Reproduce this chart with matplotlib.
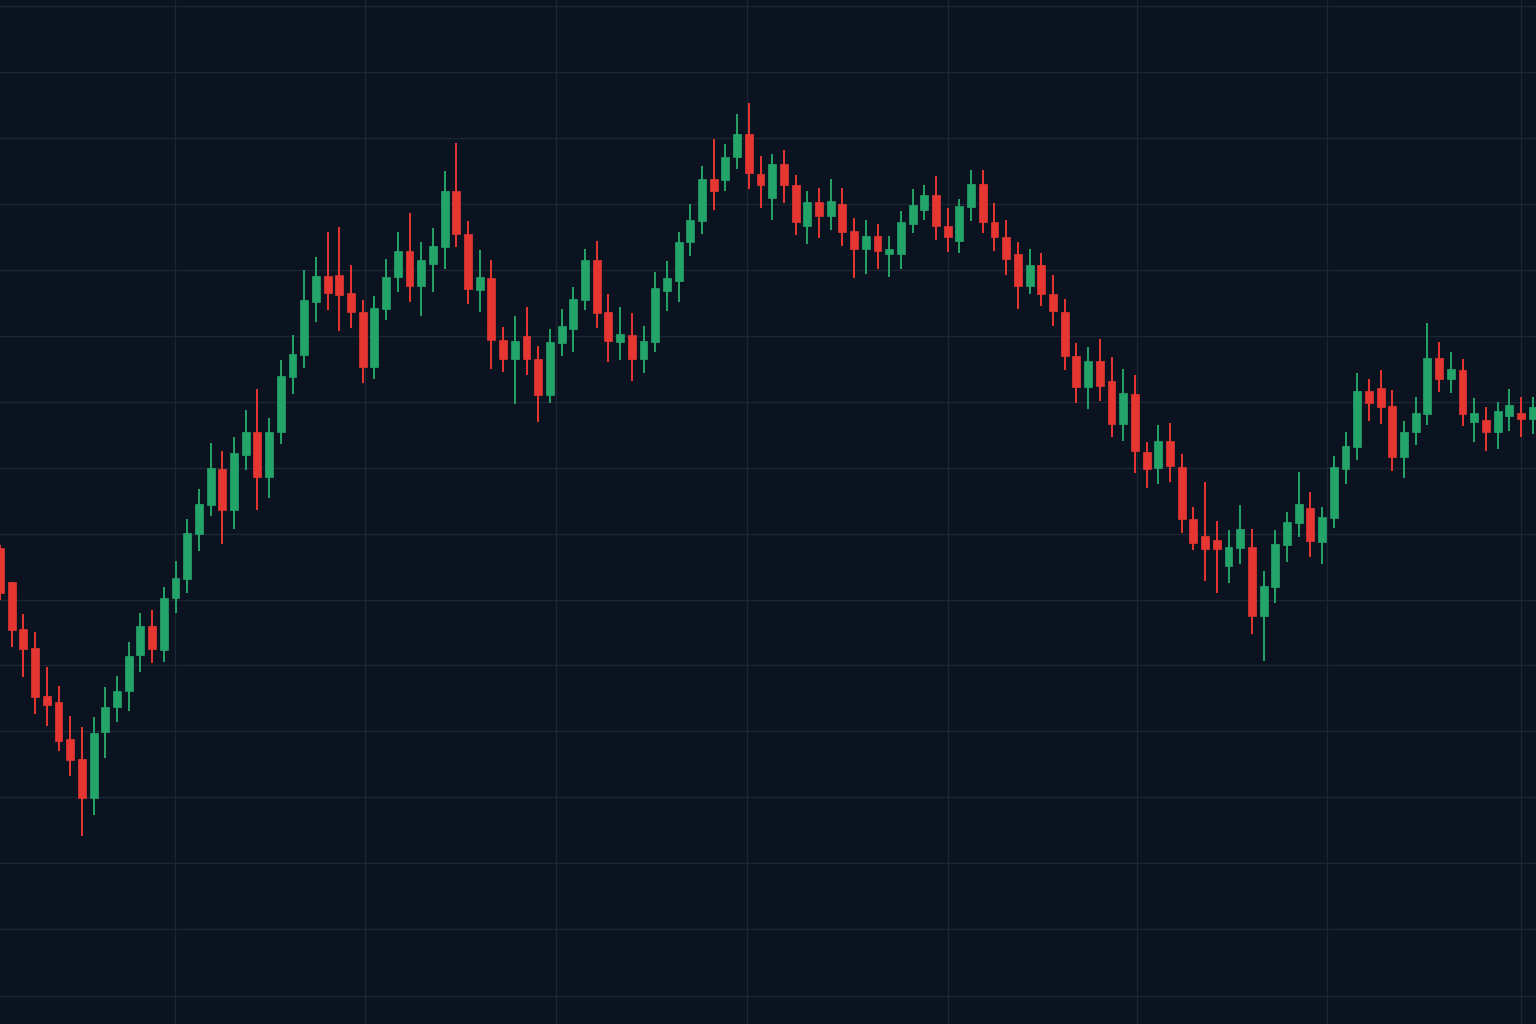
import matplotlib
matplotlib.use("Agg")
import matplotlib.pyplot as plt
import numpy as np

# levels (screen-style scale: smaller = higher)
opens = [548, 582, 629, 648, 696, 702, 739, 759, 798, 732, 707, 691, 655, 626, 650, 598, 579, 534, 505, 469,
         510, 455, 432, 477, 432, 377, 355, 302, 276, 275, 293, 312, 367, 309, 277, 251, 286, 264, 247, 191,
         234, 290, 278, 340, 359, 336, 359, 395, 343, 329, 300, 260, 312, 342, 335, 359, 342, 291, 281, 242,
         221, 179, 180, 157, 134, 174, 198, 164, 185, 226, 202, 216, 204, 231, 249, 236, 254, 254, 224, 210,
         195, 226, 241, 207, 184, 222, 237, 254, 286, 265, 294, 312, 356, 387, 361, 381, 424, 394, 452, 468,
         441, 467, 519, 536, 540, 566, 548, 547, 616, 587, 545, 523, 508, 542, 518, 469, 447, 391, 388, 406,
         457, 432, 414, 358, 379, 370, 422, 420, 432, 416, 413, 419]
highs = [545, 582, 614, 632, 667, 686, 716, 727, 717, 687, 676, 642, 613, 610, 587, 561, 519, 489, 443, 451,
         437, 410, 389, 418, 360, 335, 270, 257, 232, 227, 265, 300, 296, 259, 232, 213, 242, 228, 171, 143,
         221, 250, 260, 327, 316, 307, 346, 329, 309, 287, 249, 241, 294, 307, 313, 326, 272, 261, 232, 204,
         166, 139, 144, 114, 103, 156, 154, 150, 175, 191, 188, 179, 188, 218, 220, 224, 236, 211, 189, 185,
         176, 208, 199, 170, 170, 203, 220, 242, 249, 253, 275, 299, 343, 347, 339, 357, 369, 375, 442, 425,
         423, 454, 507, 482, 521, 530, 505, 529, 571, 530, 512, 472, 492, 507, 456, 432, 373, 379, 370, 390,
         421, 397, 323, 342, 352, 359, 398, 407, 402, 389, 397, 397]
lows = [600, 647, 677, 714, 726, 751, 776, 836, 815, 758, 722, 711, 672, 663, 662, 613, 593, 551, 516, 544,
        529, 470, 510, 498, 444, 394, 368, 322, 310, 331, 328, 383, 379, 320, 292, 302, 316, 292, 269, 247,
        304, 312, 369, 372, 404, 375, 422, 403, 356, 352, 310, 328, 362, 360, 381, 373, 352, 311, 302, 256,
        234, 210, 191, 169, 189, 208, 220, 203, 235, 244, 238, 230, 246, 278, 274, 269, 277, 269, 233, 220,
        240, 252, 253, 221, 233, 251, 275, 309, 294, 306, 326, 370, 403, 409, 401, 437, 441, 473, 488, 484,
        482, 533, 550, 581, 593, 583, 564, 634, 661, 603, 562, 537, 557, 564, 528, 484, 460, 421, 424, 471,
        478, 445, 425, 392, 393, 426, 442, 451, 449, 431, 437, 434]
closes = [593, 630, 649, 697, 705, 741, 760, 798, 733, 707, 691, 656, 626, 649, 598, 578, 533, 504, 468, 510,
          453, 432, 477, 432, 376, 354, 300, 276, 293, 295, 312, 367, 308, 277, 251, 286, 260, 246, 191, 234,
          289, 277, 340, 359, 341, 359, 395, 342, 326, 299, 260, 313, 341, 334, 359, 341, 288, 278, 242, 220,
          179, 191, 157, 134, 173, 185, 164, 185, 222, 202, 216, 201, 232, 249, 236, 251, 249, 222, 205, 195,
          226, 237, 206, 184, 222, 237, 259, 286, 265, 294, 311, 356, 387, 361, 386, 424, 393, 451, 469, 441,
          466, 519, 543, 549, 549, 547, 529, 616, 586, 544, 522, 504, 541, 517, 467, 446, 391, 403, 407, 457,
          432, 413, 358, 379, 369, 414, 413, 432, 411, 405, 419, 407]

h_grid = [6, 72, 138, 204, 270, 336, 402, 468, 534, 600, 665, 731, 797, 863, 929, 996]
v_grid_px = [175, 365, 556, 747, 948, 1137, 1327, 1521]

BG = "#0b1320"
GRID = "#1b2634"
UP = "#23a468"
DOWN = "#e63632"
STEP = 11.7  # pixels per candle

n = len(opens)
idx = np.arange(n)
o = np.array(opens)
c = np.array(closes)
up = c < o  # smaller level = higher price

fig = plt.figure(figsize=(15.36, 10.24), dpi=100, facecolor=BG)
ax = fig.add_axes([0, 0, 1, 1], facecolor=BG)

for y in h_grid:
    ax.axhline(y, color=GRID, lw=1, zorder=0)
for xp in v_grid_px:
    ax.axvline(xp / STEP, color=GRID, lw=1, zorder=0)

colors = np.where(up, UP, DOWN)
ax.vlines(idx, highs, lows, colors=colors, lw=1.4, zorder=2)
bottom = np.minimum(o, c)
height = np.maximum(np.abs(c - o), 2)
ax.bar(idx, height, bottom=bottom, width=0.68, color=colors, edgecolor=colors, lw=0.5, zorder=3)

ax.set_xlim(0, 1536 / STEP)
ax.set_ylim(1024, 0)
ax.axis("off")

fig.savefig("out.png", dpi=100, facecolor=BG)
